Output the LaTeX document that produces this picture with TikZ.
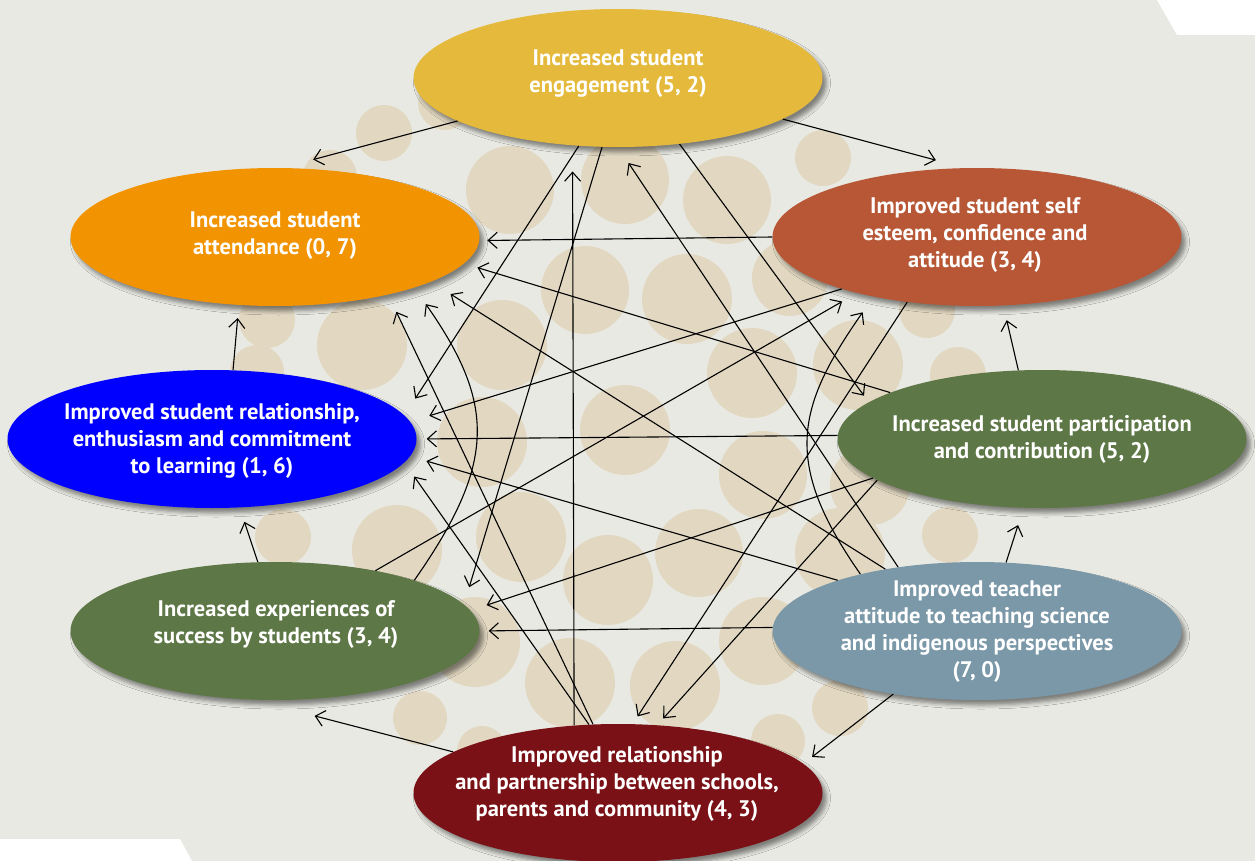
\documentclass[tikz,border=0pt]{standalone}
\usepackage{fontspec}
\setsansfont{PT Sans}
\usetikzlibrary{arrows.meta, shapes.geometric, shadows.blur}

\definecolor{fondo}{HTML}{E9E9E3}
\definecolor{punto}{HTML}{E2D8C2}
\definecolor{cEng}{HTML}{E5BA3C}
\definecolor{cAtt}{HTML}{F29402}
\definecolor{cSelf}{HTML}{B75735}
\definecolor{cRel}{HTML}{0000FF}
\definecolor{cGreen}{HTML}{5E7746}
\definecolor{cTeach}{HTML}{7A98A8}
\definecolor{cPartn}{HTML}{7A1116}

\begin{document}
\begin{tikzpicture}[x=1pt, y=-1pt,
  >={Straight Barb[length=9pt, width=16pt]},
  bubble/.style={ellipse, minimum width=409pt, minimum height=138pt, inner sep=0pt,
    blur shadow={shadow xshift=4pt, shadow yshift=-5pt, shadow blur radius=4pt, shadow opacity=45}},
  caption/.style={text=white, align=center, font=\sffamily\bfseries\fontsize{22.5}{27}\selectfont},
  link/.style={->, line width=1.1pt}]

  % Fondo
  \useasboundingbox (0,0) rectangle (1255,861);
  \fill[fondo] (0,0) rectangle (1255,861);
  \fill[white] (1157,0) -- (1255,0) -- (1255,35) -- (1177,35) -- cycle;
  \fill[white] (0,839) -- (180,839) -- (192,861) -- (0,861) -- cycle;

  % Circulos del fondo
  \foreach \x/\y/\r in {384/133/28, 330/177/27, 445/103/27, 510/190/44, 625/180/44,
      727/200/44, 823/158/28, 790/278/38, 585/290/44, 687/299/45, 267/320/28,
      362/345/45, 257/372/27, 502/345/45, 752/373/45, 858/365/45, 927/310/28,
      958/375/28, 625/430/45, 482/442/45, 763/475/44, 870/485/40, 283/537/28,
      397/550/45, 521/537/45, 608/580/45, 699/553/44, 840/553/45, 950/535/28,
      475/642/45, 570/683/45, 675/686/45, 763/641/44, 420/718/27, 482/751/25,
      778/741/27, 840/708/28}{
    \fill[punto] (\x,\y) circle (\r);
  }

  % Elipses
  \node[bubble, fill=cEng] (eng) at (618,78) {};
  \node[bubble, fill=cAtt] (att) at (275,237) {};
  \node[bubble, fill=cSelf] (self) at (977,237) {};
  \node[bubble, fill=cRel] (rel) at (212,439) {};
  \node[bubble, fill=cGreen] (part) at (1042,439) {};
  \node[bubble, fill=cGreen] (succ) at (275,631) {};
  \node[bubble, fill=cTeach] (teach) at (977,631) {};
  \node[bubble, fill=cPartn] (partn) at (618,793) {};

  % Textos
  \node[caption] (eng-t) at (618,74) {Increased student\\engagement (5, 2)};
  \node[caption] (att-t) at (275,236) {Increased student\\attendance (0, 7)};
  \node[caption] (self-t) at (975,235) {Improved student self\\esteem, confidence and\\attitude (3, 4)};
  \node[caption] (rel-t) at (212,441) {Improved student relationship,\\enthusiasm and commitment\\to learning (1, 6)};
  \node[caption] (part-t) at (1042,439) {Increased student participation\\and contribution (5, 2)};
  \node[caption] (succ-t) at (276,624) {Increased experiences of\\success by students (3, 4)};
  \node[caption] (teach-t) at (977,632) {Improved teacher\\attitude to teaching science\\and indigenous perspectives\\(7, 0)};
  \node[caption] (partn-t) at (617,784) {Improved relationship\\and partnership between schools,\\parents and community (4, 3)};

  % Flechas rectas
  \draw[link, shorten >=32pt] (eng.195) -- (att.84);
  \draw[link, shorten >=30pt] (eng.346.5) -- (self.100.7);
  \draw[link, shorten >=20pt] (eng.240.2) -- (rel.7.6);
  \draw[link, shorten >=18pt] (eng.257.4) -- (succ.8.7);
  \draw[link, shorten >=8pt] (eng.313) -- (part.168.6);
  \draw[link, shorten >=8pt] (self.180.8) -- (att.359.2);
  \draw[link, shorten >=20pt] (self.201.2) -- (rel.5.8);
  \draw[link, shorten >=9pt] (self.223.3) -- (partn.78.7);
  \draw[link, shorten >=13pt] (rel.73) -- (att.242.3);
  \draw[link, shorten >=15pt] (part.109.2) -- (self.291.4);
  \draw[link, shorten >=10pt] (part.179.7) -- (rel.0.3);
  \draw[link, shorten >=14pt] (part.163.2) -- (att.352.3);
  \draw[link, shorten >=17pt] (part.193.1) -- (succ.6.6);
  \draw[link, shorten >=9pt] (part.194.9) -- (partn.60.1);
  \draw[link, shorten >=15pt] (succ.104.6) -- (rel.292.7);
  \draw[link, shorten >=17pt] (succ.31.8) -- (self.205.7);
  \draw[link, shorten >=19pt] (teach.141.3) -- (eng.270);
  \draw[link, shorten >=23pt] (teach.146.3) -- (att.344.4);
  \draw[link, shorten >=17pt] (teach.160.4) -- (rel.355.3);
  \draw[link, shorten >=18pt] (teach.67.6) -- (part.255.3);
  \draw[link, shorten >=9pt] (teach.179.7) -- (succ.0.3);
  \draw[link, shorten >=11pt] (teach.217.5) -- (partn.9.5);
  \draw[link, shorten >=26pt] (partn.123.8) -- (eng.236.2);
  \draw[link, shorten >=64pt] (partn.166.2) -- (succ.252.2);
  \draw[link, shorten >=19pt] (partn.110) -- (att.333.1);
  \draw[link, shorten >=17pt] (partn.113.7) -- (rel.353.4);

  % Flechas curvas
  \draw[link, shorten >=20pt] (succ.20.3) to[out=55, in=-55, looseness=1.25] (att.340.7);
  \draw[link, shorten >=19pt] (teach.154.9) to[out=125, in=-125, looseness=1.25] (self.210.8);
\end{tikzpicture}
\end{document}
